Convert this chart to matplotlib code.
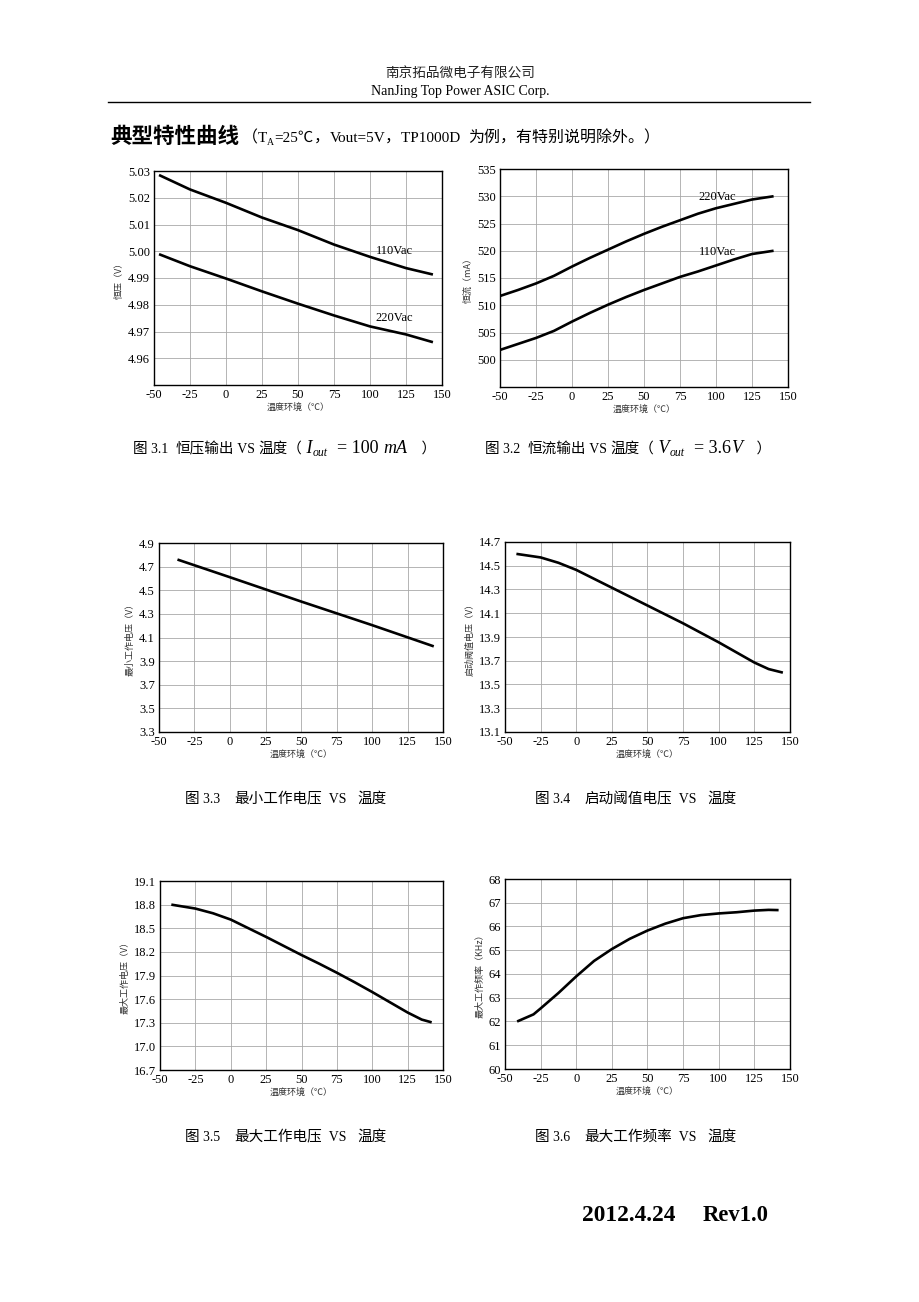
import matplotlib
matplotlib.use('Agg')
import matplotlib.pyplot as plt

# ---- data ----
t_cv = [-46.5, -25, 0, 25, 50, 75, 100, 125, 143.7]
cv_110 = [5.0285, 5.0231, 5.0181, 5.0126, 5.0079, 5.0025, 4.9979, 4.9937, 4.9913]
cv_220 = [4.9989, 4.9944, 4.9898, 4.9850, 4.9804, 4.9760, 4.9719, 4.9689, 4.9660]

t_cc = [-50, -37.5, -25, -12.5, 0, 12.5, 25, 37.5, 50, 62.5, 75, 87.5, 100, 112.5, 125, 140]
cc_220 = [511.7, 512.8, 514.0, 515.4, 517.1, 518.7, 520.2, 521.7, 523.1, 524.4,
          525.6, 526.8, 527.8, 528.6, 529.4, 530.0]
cc_110 = [501.8, 502.9, 504.0, 505.3, 507.0, 508.6, 510.1, 511.5, 512.8, 514.0,
          515.2, 516.2, 517.3, 518.4, 519.4, 520.0]

t_vmin = [-37, 0, 50, 100, 143.5]
vmin = [4.76, 4.61, 4.405, 4.205, 4.025]

t_vth = [-42, -25, -12.5, 0, 12.5, 25, 37.5, 50, 62.5, 75, 87.5, 100, 112.5, 125, 135, 145]
vth = [14.60, 14.57, 14.525, 14.465, 14.39, 14.315, 14.24, 14.165, 14.09, 14.015,
       13.935, 13.855, 13.77, 13.685, 13.63, 13.60]

t_vmax = [-42, -25, -12.5, 0, 12.5, 25, 37.5, 50, 62.5, 75, 87.5, 100, 112.5, 125, 135, 142]
vmax = [18.80, 18.75, 18.69, 18.61, 18.50, 18.39, 18.275, 18.16, 18.05, 17.935,
        17.815, 17.69, 17.56, 17.43, 17.34, 17.305]

t_fmax = [-41.5, -30, -25, -12.5, 0, 12.5, 25, 37.5, 50, 62.5, 75, 87.5, 100, 112.5, 125, 135, 142]
fmax = [62.0, 62.3, 62.55, 63.2, 63.9, 64.55, 65.05, 65.48, 65.83, 66.12, 66.35,
        66.48, 66.55, 66.6, 66.67, 66.7, 66.69]

x_ticks = [-50, -25, 0, 25, 50, 75, 100, 125, 150]

SERIF = ['Liberation Serif', 'Noto Sans CJK SC']
CJK = ['Noto Sans CJK SC', 'Liberation Serif']
W, H = 920, 1302

fig = plt.figure(figsize=(W / 100, H / 100), dpi=100)
fig.patch.set_facecolor('white')


def ax_at(l, r, t, b):
    return fig.add_axes([l / W, 1 - b / H, (r - l) / W, (b - t) / H])


def setup(ax, ylim, yticks, yfmt, ylabel):
    ax.set_xlim(-50, 150)
    ax.set_ylim(*ylim)
    ax.set_xticks(x_ticks)
    ax.set_yticks(yticks)
    ax.set_yticklabels([yfmt.format(v) for v in yticks], family=SERIF, fontsize=9)
    ax.set_xticklabels([str(v) for v in x_ticks], family=SERIF, fontsize=9)
    ax.tick_params(length=0, pad=3)
    ax.grid(True, color='#a8a8a8', lw=0.6)
    for s in ax.spines.values():
        s.set_linewidth(1.0)
    ax.set_xlabel('温度环境（℃）', family=CJK, fontsize=6.5, color='#333333', labelpad=1)
    ax.set_ylabel(ylabel, family=CJK, fontsize=6.5, color='#333333', labelpad=3)


def curve(ax, x, y):
    ax.plot(x, y, color='black', lw=1.9, solid_capstyle='butt', solid_joinstyle='round')


# Fig 3.1
ax = ax_at(154, 442, 171, 385)
setup(ax, (4.95, 5.03), [4.96, 4.97, 4.98, 4.99, 5.00, 5.01, 5.02, 5.03], '{:.2f}', '恒压（V）')
curve(ax, t_cv, cv_110)
curve(ax, t_cv, cv_220)
ax.text(104, 5.000, '110Vac', family=SERIF, fontsize=9, va='center')
ax.text(104, 4.975, '220Vac', family=SERIF, fontsize=9, va='center')

# Fig 3.2
ax = ax_at(500, 788, 169, 387)
setup(ax, (495, 535), [500, 505, 510, 515, 520, 525, 530, 535], '{:d}', '恒流（mA）')
curve(ax, t_cc, cc_220)
curve(ax, t_cc, cc_110)
ax.text(88, 529.8, '220Vac', family=SERIF, fontsize=9, va='center')
ax.text(88, 519.8, '110Vac', family=SERIF, fontsize=9, va='center')

# Fig 3.3
ax = ax_at(159, 443, 543, 732)
setup(ax, (3.3, 4.9), [3.3, 3.5, 3.7, 3.9, 4.1, 4.3, 4.5, 4.7, 4.9], '{:.1f}', '最小工作电压（V）')
curve(ax, t_vmin, vmin)

# Fig 3.4
ax = ax_at(505, 790, 542, 732)
setup(ax, (13.1, 14.7), [13.1, 13.3, 13.5, 13.7, 13.9, 14.1, 14.3, 14.5, 14.7], '{:.1f}', '启动阈值电压（V）')
curve(ax, t_vth, vth)

# Fig 3.5
ax = ax_at(160, 443, 881, 1070)
setup(ax, (16.7, 19.1), [16.7, 17.0, 17.3, 17.6, 17.9, 18.2, 18.5, 18.8, 19.1], '{:.1f}', '最大工作电压（V）')
curve(ax, t_vmax, vmax)

# Fig 3.6
ax = ax_at(505, 790, 879, 1069)
setup(ax, (60, 68), [60, 61, 62, 63, 64, 65, 66, 67, 68], '{:d}', '最大工作频率（KHz）')
curve(ax, t_fmax, fmax)


# ---- page text (pixel positions, top-left origin, baseline) ----
renderer = fig.canvas.get_renderer()


def put(x, y, s, **kw):
    return fig.text(x / W, 1 - y / H, s, va='baseline', **kw)


def row(x, y, parts):
    # text pieces one after another
    for s, kw, dy in parts:
        t = put(x, y + dy, s, **kw)
        x = t.get_window_extent(renderer).x1


put(460, 78, '南京拓品微电子有限公司', family=CJK, fontsize=9.8, ha='center', color='#222222')
put(460, 95, 'NanJing Top Power ASIC Corp.', family=SERIF, fontsize=10, ha='center')
fig.add_artist(plt.Line2D([108 / W, 810 / W], [1 - 101.5 / H, 1 - 101.5 / H],
                          color='black', lw=1.0))

lat = dict(family=SERIF, fontsize=11)
han = dict(family=SERIF, fontsize=11.5)
put(110, 143, '典型特性曲线', family=CJK, fontsize=15.5, weight='bold')
row(242, 142, [('（', han, 0), ('T', lat, 0), ('A', dict(family=SERIF, fontsize=7), 3),
               ('=25℃', lat, 0), ('，', han, 0), ('Vout=5V', lat, 0), ('，', han, 0),
               ('TP1000D  ', lat, 0), ('为例，有特别说明除外。）', han, 0)])

cap = dict(family=SERIF, fontsize=10.5)
num = dict(family=SERIF, fontsize=10)
mi = dict(family='Liberation Serif', fontsize=13, style='italic')
mr = dict(family='Liberation Serif', fontsize=13)
sub = dict(family='Liberation Serif', fontsize=8.5, style='italic')

row(133, 453, [('图 ', cap, 0), ('3.1  ', num, 0), ('恒压输出', cap, 0), (' VS ', num, 0),
               ('温度（', cap, 0), (' I', mi, 0), ('out', sub, 3), ('  = 100 ', mr, 0),
               ('mA', mi, 0), ('    ）', cap, 0)])
row(485, 453, [('图 ', cap, 0), ('3.2  ', num, 0), ('恒流输出', cap, 0), (' VS ', num, 0),
               ('温度（', cap, 0), (' V', mi, 0), ('out', sub, 3), ('  = 3.6', mr, 0),
               ('V', mi, 0), ('    ）', cap, 0)])

for x0, y0, n, name in [(185, 803, '3.3', '最小工作电压'), (535, 803, '3.4', '启动阈值电压'),
                        (185, 1141, '3.5', '最大工作电压'), (535, 1141, '3.6', '最大工作频率')]:
    row(x0, y0, [('图 ', cap, 0), (n + '    ', num, 0), (name, cap, 0), ('  VS   ', num, 0),
                 ('温度', cap, 0)])

put(582, 1221, '2012.4.24', family=SERIF, fontsize=16.8, weight='bold')
put(703, 1221, 'Rev1.0', family=SERIF, fontsize=16.3, weight='bold')

fig.savefig('out.png', dpi=100)
